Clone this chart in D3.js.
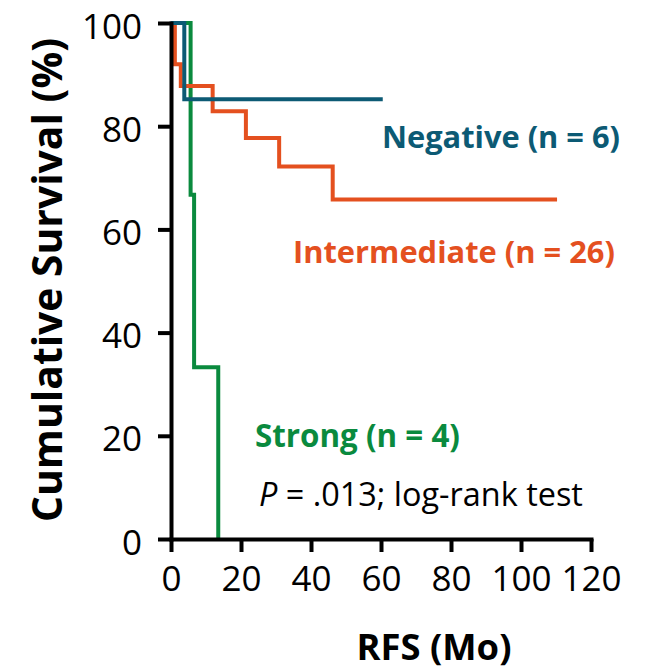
<!DOCTYPE html>
<html>
<head>
<meta charset="utf-8">
<script src="https://cdn.jsdelivr.net/npm/d3@7"></script>
<style>
  html, body { margin: 0; padding: 0; background: #fff; }
  svg { display: block; }
</style>
</head>
<body>
<svg id="chart" width="653" height="670"></svg>
<script>
// ---- data ----
const xTicks = [0, 20, 40, 60, 80, 100, 120];
const yTicks = [0, 20, 40, 60, 80, 100];

const negativeTimes = [0, 3.8];
const negativeSurv  = [100, 85.2];
const negativeEnd   = 60.5;

const intermediateTimes = [0, 1.1, 2.8, 11.9, 21.4, 30.9, 46.2];
const intermediateSurv  = [100, 92, 87.8, 82.9, 77.7, 72.2, 65.8];
const intermediateEnd   = 110.3;

const strongTimes = [0, 5.6, 6.6, 13.5];
const strongSurv  = [100, 66.7, 33.3, 0];
const strongEnd   = 13.5;

const groupNames = ["Negative (n = 6)", "Intermediate (n = 26)", "Strong (n = 4)"];

// ---- layout ----
const svg = d3.select("#chart");
const FONT = "'Open Sans', 'DejaVu Sans', sans-serif";
const x = d3.scaleLinear().domain([0, 120]).range([171, 591]);
const y = d3.scaleLinear().domain([0, 100]).range([539, 23]);

const colors = { neg: "#0c5a74", int: "#e4501f", str: "#0a8a3e" };

function stepPoints(times, surv, end) {
  const pts = times.map((t, i) => [t, surv[i]]);
  if (end > times[times.length - 1]) pts.push([end, surv[surv.length - 1]]);
  return pts;
}
const line = d3.line().x(d => x(d[0])).y(d => y(d[1])).curve(d3.curveStepAfter);

// curves (green bottom, orange middle, blue top)
const series = [
  { pts: stepPoints(strongTimes, strongSurv, strongEnd), c: colors.str },
  { pts: stepPoints(intermediateTimes, intermediateSurv, intermediateEnd), c: colors.int },
  { pts: stepPoints(negativeTimes, negativeSurv, negativeEnd), c: colors.neg }
];
svg.append("g").selectAll("path").data(series).join("path")
  .attr("d", d => line(d.pts))
  .attr("fill", "none")
  .attr("stroke", d => d.c)
  .attr("stroke-width", 4)
  .attr("stroke-linejoin", "miter");

// axes
const yAxis = d3.axisLeft(y).tickValues(yTicks).tickSize(13).tickSizeOuter(0).tickPadding(16);
const xAxis = d3.axisBottom(x).tickValues(xTicks).tickSize(13).tickSizeOuter(0).tickPadding(14);

const gy = svg.append("g").attr("transform", `translate(${x(0)},0)`).call(yAxis);
const gx = svg.append("g").attr("transform", `translate(0,${y(0)})`).call(xAxis);
[gx, gy].forEach(g => {
  g.select(".domain").attr("stroke", "#000").attr("stroke-width", 4).attr("stroke-linecap", "square");
  g.selectAll(".tick line").attr("stroke", "#000").attr("stroke-width", 4);
  g.selectAll(".tick text").attr("fill", "#000").style("font-family", FONT).style("font-size", "35px");
});
gy.selectAll(".tick text").attr("dy", 15);

// helper: scale font so text reaches the target width
function fitText(sel, targetWidth, baseSize) {
  sel.style("font-size", baseSize + "px");
  const w = sel.node().getComputedTextLength();
  sel.style("font-size", (baseSize * targetWidth / w).toFixed(2) + "px");
  return sel;
}

const labels = [
  { t: groupNames[0], x: 382, y: 148, w: 238, c: colors.neg },
  { t: groupNames[1], x: 293, y: 263, w: 322, c: colors.int },
  { t: groupNames[2], x: 255, y: 447, w: 205, c: colors.str }
];
labels.forEach(l => {
  const s = svg.append("text").attr("x", l.x).attr("y", l.y)
    .attr("fill", l.c).style("font-family", FONT).style("font-weight", 700).text(l.t);
  fitText(s, l.w, 30);
});

const pt = svg.append("text").attr("x", 259).attr("y", 506)
  .attr("fill", "#000").style("font-family", FONT);
pt.append("tspan").style("font-style", "italic").text("P");
pt.append("tspan").text(" = .013; log-rank test");
fitText(pt, 324, 28);

// axis titles
const xt = svg.append("text").attr("x", 434).attr("y", 660).attr("text-anchor", "middle")
  .attr("fill", "#000").style("font-family", FONT).style("font-weight", 700).text("RFS (Mo)");
fitText(xt, 155, 36);

const yt = svg.append("text").attr("transform", "translate(62,280) rotate(-90)")
  .attr("text-anchor", "middle").attr("fill", "#000")
  .style("font-family", FONT).style("font-weight", 700).text("Cumulative Survival (%)");
fitText(yt, 484, 36);
</script>
</body>
</html>
